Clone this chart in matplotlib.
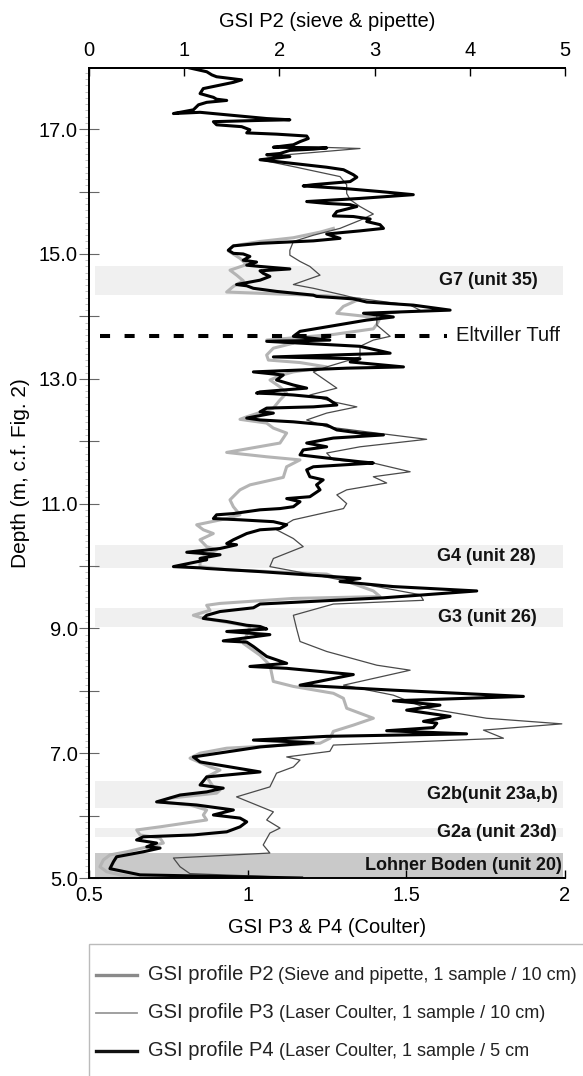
import numpy as np
import matplotlib
matplotlib.use("Agg")
import matplotlib.pyplot as plt
from matplotlib.patches import Rectangle
from matplotlib.lines import Line2D
from matplotlib.ticker import MultipleLocator
from matplotlib.transforms import blended_transform_factory

plt.rcParams['font.family'] = ['Liberation Sans', 'DejaVu Sans']

# GSI profile P2 (sieve & pipette), plotted against the top axis
p2_depth = [15.41, 15.35, 15.26, 15.20, 15.13, 15.05, 14.93, 14.83, 14.74, 14.66,
            14.57, 14.48, 14.39, 14.37, 14.33, 14.28, 14.16, 14.05, 14.01, 13.97,
            13.87, 13.80, 13.71, 13.62, 13.57, 13.49, 13.38, 13.30, 13.26, 13.19,
            13.11, 13.05, 12.98, 12.87, 12.77, 12.66, 12.53, 12.39, 12.35, 12.29,
            12.21, 12.13, 11.97, 11.82, 11.75, 11.70, 11.59, 11.42, 11.30, 11.22,
            11.06, 10.95, 10.82, 10.76, 10.66, 10.58, 10.52, 10.42, 10.31, 10.26,
            10.12, 9.99, 9.94, 9.87, 9.60, 9.51, 9.48, 9.40, 9.37, 9.29,
            9.21, 9.16, 9.08, 9.03, 8.89, 8.76, 8.57, 8.41, 8.15, 8.07,
            7.96, 7.88, 7.72, 7.56, 7.45, 7.35, 7.24, 7.16, 7.08, 7.00,
            6.92, 6.78, 6.73, 6.62, 6.46, 6.41, 6.36, 6.28, 6.22, 6.17,
            6.09, 6.01, 5.93, 5.82, 5.77, 5.69, 5.64, 5.56, 5.42, 5.37,
            5.29, 5.18, 5.10, 5.05, 5.00]
p2_gsi = [2.567, 2.427, 2.146, 1.796, 1.516, 1.463, 1.586, 1.656, 1.481, 1.551,
          1.621, 1.516, 1.446, 1.796, 2.497, 2.847, 2.672, 2.602, 2.847, 3.057,
          3.022, 2.987, 2.567, 1.866, 2.146, 1.936, 1.866, 1.884, 2.216, 2.497,
          2.146, 2.006, 1.901, 2.006, 2.076, 2.006, 1.936, 1.656, 1.586, 1.866,
          1.936, 2.076, 2.006, 1.446, 1.866, 2.216, 2.076, 2.041, 1.691, 1.586,
          1.481, 1.516, 1.586, 1.446, 1.131, 1.201, 1.306, 1.166, 1.236, 1.341,
          1.166, 1.166, 1.446, 2.497, 2.987, 3.057, 2.146, 1.376, 1.236, 1.271,
          1.096, 1.201, 1.516, 1.691, 1.656, 1.621, 1.796, 1.901, 1.936, 2.146,
          2.567, 2.672, 2.707, 2.987, 2.777, 2.567, 2.532, 2.427, 1.446, 1.166,
          1.061, 1.271, 1.376, 1.236, 1.306, 1.376, 1.341, 0.851, 0.746, 1.061,
          1.236, 1.201, 1.236, 0.746, 0.501, 0.536, 0.746, 0.781, 0.396, 0.221,
          0.151, 0.115, 0.186, 0.326, 0.536]

# GSI profile P3 (laser Coulter, 10 cm)
p3_depth = [16.71, 16.69, 16.59, 16.51, 16.40, 16.24, 16.11, 15.97, 15.87, 15.76,
            15.64, 15.54, 15.41, 15.30, 15.20, 15.06, 14.98, 14.88, 14.80, 14.66,
            14.51, 14.45, 14.34, 14.30, 14.18, 14.10, 14.02, 13.86, 13.68, 13.62,
            13.52, 13.35, 13.19, 13.11, 12.85, 12.74, 12.63, 12.55, 12.45, 12.34,
            12.23, 12.03, 11.91, 11.81, 11.70, 11.65, 11.51, 11.43, 11.33, 11.22,
            11.14, 11.00, 10.92, 10.74, 10.58, 10.44, 10.31, 10.12, 9.99, 9.54,
            9.45, 9.39, 9.21, 9.00, 8.79, 8.63, 8.41, 8.33, 8.09, 7.93,
            7.72, 7.56, 7.47, 7.37, 7.24, 7.13, 7.03, 6.94, 6.89, 6.78,
            6.68, 6.46, 6.30, 6.06, 5.93, 5.80, 5.72, 5.53, 5.40, 5.32,
            5.18, 5.07, 5.02]
p3_gsi = [1.228, 1.354, 1.123, 1.039, 1.144, 1.291, 1.312, 1.312, 1.323, 1.354,
          1.396, 1.354, 1.291, 1.207, 1.144, 1.133, 1.133, 1.165, 1.196, 1.228,
          1.144, 1.207, 1.302, 1.333, 1.512, 1.543, 1.407, 1.407, 1.449, 1.396,
          1.354, 1.354, 1.249, 1.207, 1.281, 1.196, 1.270, 1.344, 1.249, 1.186,
          1.249, 1.564, 1.354, 1.249, 1.270, 1.396, 1.512, 1.396, 1.438, 1.312,
          1.281, 1.312, 1.302, 1.144, 1.091, 1.144, 1.175, 1.081, 1.070, 1.543,
          1.554, 1.270, 1.144, 1.154, 1.165, 1.249, 1.407, 1.512, 1.302, 1.459,
          1.564, 1.753, 1.990, 1.743, 1.806, 1.270, 1.259, 1.123, 1.165, 1.144,
          1.091, 1.070, 0.965, 1.081, 1.060, 1.102, 1.070, 1.049, 1.070, 0.766,
          0.787, 0.818, 1.081]

# GSI profile P4 (laser Coulter, 5 cm)
p4_depth = [17.98, 17.92, 17.87, 17.84, 17.79, 17.75, 17.65, 17.57, 17.51, 17.48,
            17.46, 17.43, 17.39, 17.31, 17.25, 17.27, 17.17, 17.15, 17.14, 17.12,
            17.07, 17.04, 16.99, 16.94, 16.92, 16.89, 16.85, 16.80, 16.75, 16.71,
            16.70, 16.68, 16.66, 16.61, 16.59, 16.56, 16.51, 16.45, 16.39, 16.35,
            16.27, 16.23, 16.16, 16.11, 16.09, 16.05, 16.00, 15.95, 15.89, 15.84,
            15.81, 15.79, 15.76, 15.68, 15.61, 15.60, 15.56, 15.52, 15.47, 15.41,
            15.37, 15.32, 15.25, 15.21, 15.17, 15.13, 15.06, 15.01, 15.00, 14.96,
            14.90, 14.87, 14.82, 14.80, 14.76, 14.73, 14.69, 14.64, 14.58, 14.51,
            14.49, 14.45, 14.40, 14.34, 14.32, 14.28, 14.23, 14.18, 14.10, 14.05,
            13.99, 13.94, 13.86, 13.76, 13.68, 13.62, 13.60, 13.52, 13.41, 13.35,
            13.32, 13.27, 13.19, 13.17, 13.11, 13.06, 12.98, 12.90, 12.85, 12.79,
            12.77, 12.76, 12.74, 12.69, 12.58, 12.55, 12.53, 12.47, 12.45, 12.37,
            12.34, 12.31, 12.26, 12.18, 12.13, 12.10, 12.05, 11.97, 11.91, 11.86,
            11.78, 11.73, 11.67, 11.65, 11.59, 11.54, 11.43, 11.38, 11.30, 11.22,
            11.11, 11.08, 11.03, 10.95, 10.92, 10.90, 10.84, 10.82, 10.76, 10.74,
            10.71, 10.66, 10.60, 10.58, 10.52, 10.47, 10.42, 10.36, 10.34, 10.28,
            10.22, 10.18, 10.12, 10.10, 9.99, 9.97, 9.96, 9.91, 9.83, 9.80,
            9.75, 9.67, 9.60, 9.49, 9.39, 9.33, 9.27, 9.21, 9.16, 9.11,
            9.05, 9.03, 8.99, 8.95, 8.90, 8.80, 8.78, 8.71, 8.63, 8.55,
            8.44, 8.39, 8.36, 8.26, 8.09, 8.01, 7.91, 7.84, 7.77, 7.69,
            7.59, 7.51, 7.48, 7.41, 7.36, 7.31, 7.27, 7.21, 7.17, 7.10,
            6.94, 6.86, 6.70, 6.62, 6.49, 6.44, 6.38, 6.33, 6.22, 6.17,
            6.09, 6.01, 5.96, 5.90, 5.82, 5.74, 5.69, 5.66, 5.61, 5.56,
            5.50, 5.48, 5.42, 5.34, 5.26, 5.15, 5.05, 5.00]
p4_gsi = [0.818, 0.871, 0.887, 0.902, 0.981, 0.955, 0.860, 0.850, 0.892, 0.902,
          0.934, 0.871, 0.845, 0.829, 0.766, 0.850, 1.060, 1.133, 1.039, 0.892,
          0.902, 0.981, 1.007, 0.997, 1.091, 1.186, 1.191, 1.165, 1.144, 1.081,
          1.249, 1.207, 1.133, 1.102, 1.060, 1.133, 1.039, 1.144, 1.249, 1.302,
          1.333, 1.344, 1.323, 1.207, 1.175, 1.302, 1.417, 1.522, 1.354, 1.186,
          1.249, 1.323, 1.344, 1.281, 1.270, 1.333, 1.386, 1.375, 1.417, 1.428,
          1.354, 1.249, 1.291, 1.207, 1.039, 0.955, 0.939, 0.955, 0.986, 1.007,
          0.986, 1.028, 0.997, 1.039, 1.133, 1.039, 1.049, 1.070, 1.039, 0.965,
          0.997, 1.018, 1.091, 1.207, 1.217, 1.333, 1.375, 1.522, 1.638, 1.365,
          1.459, 1.375, 1.281, 1.165, 1.144, 1.259, 1.060, 1.354, 1.449, 1.081,
          1.354, 1.323, 1.491, 1.312, 1.018, 1.112, 1.091, 1.144, 1.186, 1.039,
          1.028, 1.081, 1.144, 1.249, 1.281, 1.207, 1.060, 1.039, 1.081, 0.997,
          1.039, 1.144, 1.249, 1.281, 1.354, 1.428, 1.270, 1.186, 1.249, 1.175,
          1.165, 1.249, 1.354, 1.396, 1.207, 1.186, 1.196, 1.238, 1.217, 1.228,
          1.196, 1.123, 1.165, 1.144, 1.102, 1.039, 0.955, 0.902, 0.892, 0.976,
          1.081, 1.123, 1.102, 1.039, 0.997, 0.976, 0.955, 0.934, 0.965, 0.913,
          0.808, 0.913, 0.850, 0.871, 0.766, 0.850, 0.871, 1.039, 1.270, 1.354,
          1.291, 1.459, 1.722, 1.428, 1.039, 1.018, 0.913, 0.871, 0.860, 0.934,
          0.997, 1.039, 1.060, 0.934, 1.070, 0.923, 0.997, 1.018, 1.039, 1.060,
          1.123, 1.007, 1.123, 1.333, 1.165, 1.459, 1.869, 1.459, 1.606, 1.501,
          1.638, 1.554, 1.596, 1.585, 1.438, 1.690, 1.249, 1.018, 1.207, 1.039,
          0.829, 0.850, 1.039, 0.871, 0.850, 0.923, 0.871, 0.787, 0.713, 0.839,
          0.955, 0.892, 0.976, 0.997, 0.976, 0.934, 0.829, 0.671, 0.650, 0.713,
          0.682, 0.724, 0.671, 0.587, 0.577, 0.566, 0.661, 1.170]

# marker horizons: (label, top depth, bottom depth)
horizons = [
    ("G7 (unit 35)", 14.80, 14.35),
    ("G4 (unit 28)", 10.34, 9.97),
    ("G3 (unit 26)", 9.33, 9.02),
    ("G2b(unit 23a,b)", 6.55, 6.12),
    ("G2a (unit 23d)", 5.80, 5.66),
    ("Lohner Boden (unit 20)", 5.40, 5.00),
]
label_right = [0.942, 0.938, 0.940, 0.985, 0.982, 0.993]
tuff_depth = 13.69

W, H = 583, 1076
fig = plt.figure(figsize=(W / 100, H / 100), dpi=100)
ax = fig.add_axes([89 / W, 1 - 878 / H, 476 / W, 810 / H])
ax2 = ax.twiny()

# horizon bands and labels
mix = blended_transform_factory(ax.transAxes, ax.transData)
for (name, top, bot), xr in zip(horizons, label_right):
    shade = '#c9c9c9' if name.startswith('Lohner') else '#f0f0f0'
    ax.axhspan(bot, top, xmin=0.012, xmax=0.995, color=shade, lw=0, zorder=0)
    ax.text(xr, (top + bot) / 2, name, transform=mix, ha='right', va='center',
            fontsize=13, fontweight='bold', color='#111111', zorder=6)

# profiles
ax.plot(p2_gsi, p2_depth, color='#b4b4b4', lw=2.2, transform=ax2.transData, zorder=2)
ax.plot(p3_gsi, p3_depth, color='#4a4a4a', lw=0.9, zorder=3)
ax.plot(p4_gsi, p4_depth, color='black', lw=2.2, zorder=4)

# Eltviller Tuff marker
ax.plot([0.023, 0.752], [tuff_depth, tuff_depth], transform=mix, color='black',
        lw=2.9, dashes=(2.5, 3.6), solid_capstyle='butt', dash_capstyle='butt', zorder=5)
ax.text(0.771, tuff_depth, "Eltviller Tuff", transform=mix, ha='left', va='center',
        fontsize=14.5, color='#111111')

# axes
ax.set_xlim(0.5, 2)
ax.set_ylim(5, 17.98)
ax2.set_xlim(0, 5)

ax.set_xticks([0.5, 1, 1.5, 2])
ax.set_xticklabels(['0.5', '1', '1.5', '2'])
ax.set_yticks(np.arange(5, 18))
ax.set_yticklabels([f"{d:.1f}" if d % 2 == 1 else "" for d in np.arange(5, 18)])
ax.yaxis.set_minor_locator(MultipleLocator(0.1))
ax2.set_xticks(np.arange(0, 6))

ax.tick_params(axis='x', direction='in', length=6, width=1, labelsize=14.5, pad=6)
ax.tick_params(axis='y', which='major', direction='inout', length=14, width=0.8,
               color='#666666', labelsize=14.5, pad=1)
ax.tick_params(axis='y', which='minor', direction='out', length=3, width=0.5, color='#aaaaaa')
ax2.tick_params(axis='x', direction='in', length=6, width=1, labelsize=14.5, pad=6)

for a in (ax, ax2):
    a.spines['right'].set_visible(False)
    for s in a.spines.values():
        s.set_linewidth(1.4)
ax2.spines['left'].set_visible(False)
ax2.spines['bottom'].set_visible(False)

ax.set_xlabel("GSI P3 & P4 (Coulter)", fontsize=14.5, labelpad=9)
ax2.set_xlabel("GSI P2 (sieve & pipette)", fontsize=14.5, labelpad=10)
ax.set_ylabel("Depth (m, c.f. Fig. 2)", fontsize=15, labelpad=6)

# legend box below the plot
def fx(px):
    return px / W

def fy(py):
    return 1 - py / H

fig.add_artist(Rectangle((fx(89), fy(1120)), fx(640) - fx(89), fy(944) - fy(1120),
                         transform=fig.transFigure, fill=False, edgecolor='#bbbbbb', lw=1))
legend_rows = [
    ("GSI profile P2", "(Sieve and pipette, 1 sample / 10 cm)", '#8a8a8a', 2.4, 975),
    ("GSI profile P3", "(Laser Coulter, 1 sample / 10 cm)", '#999999', 1.3, 1013),
    ("GSI profile P4", "(Laser Coulter, 1 sample / 5 cm", '#111111', 2.4, 1051),
]
heads = []
for head, tail, col, lw, py in legend_rows:
    fig.add_artist(Line2D([fx(96), fx(137)], [fy(py), fy(py)], color=col, lw=lw,
                          transform=fig.transFigure))
    t = fig.text(fx(148), fy(py), head, fontsize=14.5, va='center', ha='left', color='#222222')
    heads.append((t, tail, py))

fig.canvas.draw()
renderer = fig.canvas.get_renderer()
for t, tail, py in heads:
    bb = t.get_window_extent(renderer)
    fig.text(bb.x1 / fig.bbox.width + fx(5), fy(py), tail, fontsize=13, va='center',
             ha='left', color='#222222')

fig.savefig("out.png", dpi=100)
